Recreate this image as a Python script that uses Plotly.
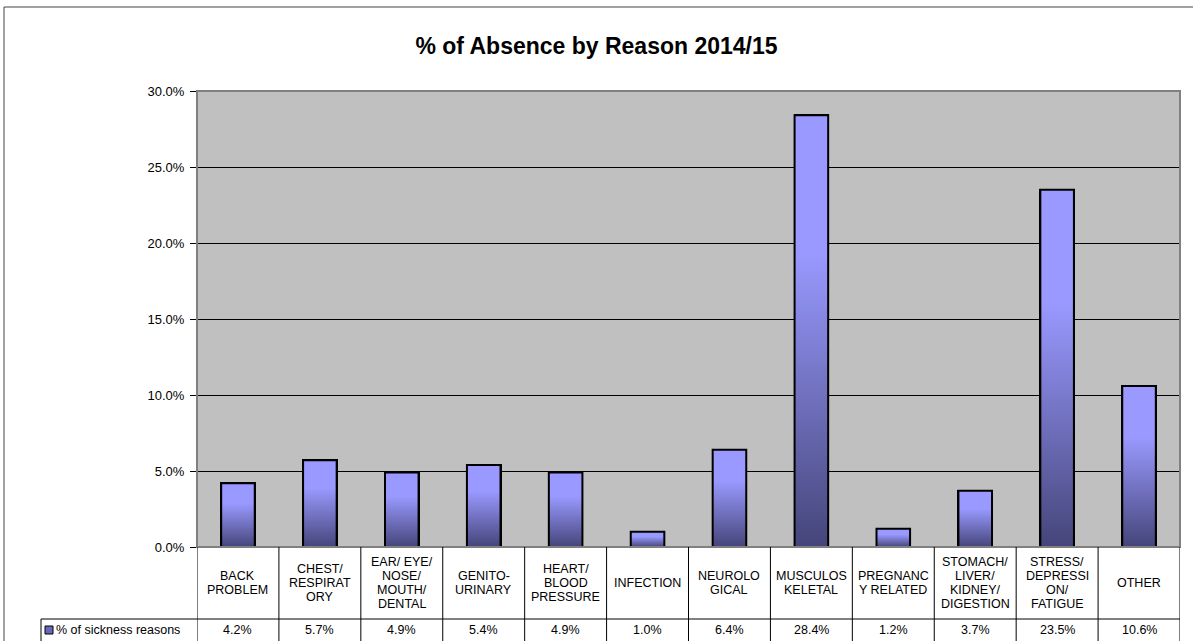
import plotly.graph_objects as go

# ---- data ----
categories = ["BACK PROBLEM", "CHEST/ RESPIRATORY", "EAR/ EYE/ NOSE/ MOUTH/ DENTAL",
              "GENITO-URINARY", "HEART/ BLOOD PRESSURE", "INFECTION", "NEUROLOGICAL",
              "MUSCULOSKELETAL", "PREGNANCY RELATED", "STOMACH/ LIVER/ KIDNEY/ DIGESTION",
              "STRESS/ DEPRESSION/ FATIGUE", "OTHER"]
table_labels = [["BACK", "PROBLEM"], ["CHEST/", "RESPIRAT", "ORY"],
                ["EAR/ EYE/", "NOSE/", "MOUTH/", "DENTAL"], ["GENITO-", "URINARY"],
                ["HEART/", "BLOOD", "PRESSURE"], ["INFECTION"], ["NEUROLO", "GICAL"],
                ["MUSCULOS", "KELETAL"], ["PREGNANC", "Y RELATED"],
                ["STOMACH/", "LIVER/", "KIDNEY/", "DIGESTION"],
                ["STRESS/", "DEPRESSI", "ON/", "FATIGUE"], ["OTHER"]]
values = [0.042, 0.057, 0.049, 0.054, 0.049, 0.010, 0.064, 0.284, 0.012, 0.037, 0.235, 0.106]
series_name = "% of sickness reasons"
y_ticks = [0, 0.05, 0.10, 0.15, 0.20, 0.25, 0.30]
title = "% of Absence by Reason 2014/15"

# ---- geometry ----
W, H = 1193, 641
PX0, PX1, PY0, PY1 = 197, 1180, 91, 547  # plot area in pixels
FONT = "Arial, Liberation Sans, sans-serif"
BAR_W = 0.41
LIGHT, DARK = "#9999FF", "#45457A"
LINE_PITCH = 13.7


def px(x):
    return (x - PX0) / (PX1 - PX0)


def py(y):
    return (PY1 - y) / (PY1 - PY0)


idx = list(range(len(categories)))

fig = go.Figure()
fig.add_trace(go.Bar(
    x=idx, y=values, width=BAR_W, name=series_name,
    marker=dict(color=LIGHT, line=dict(color="black", width=2)),
    hovertext=categories, showlegend=False,
))
# gradient overlay built from the same values
for i, v in zip(idx, values):
    fig.add_trace(go.Scatter(
        x=[i - BAR_W / 2, i + BAR_W / 2, i + BAR_W / 2, i - BAR_W / 2, i - BAR_W / 2],
        y=[0, 0, v, v, 0],
        mode="lines", fill="toself",
        fillgradient=dict(type="vertical",
                          colorscale=[[0, DARK], [0.68, LIGHT], [1, LIGHT]]),
        line=dict(color="black", width=2),
        hoverinfo="skip", showlegend=False,
    ))

shapes = []
# outer chart frame
shapes.append(dict(type="rect", xref="paper", yref="paper",
                   x0=px(4), x1=px(1200), y0=py(7), y1=py(660),
                   line=dict(color="#444444", width=1), fillcolor="rgba(0,0,0,0)"))
# plot area border (gray top/right)
shapes.append(dict(type="rect", xref="paper", yref="paper",
                   x0=0, x1=1, y0=0, y1=1, layer="above",
                   line=dict(color="#808080", width=2), fillcolor="rgba(0,0,0,0)"))
# table lines
for k in range(len(categories) + 1):
    shapes.append(dict(type="line", xref="x", yref="paper",
                       x0=k - 0.5, x1=k - 0.5, y0=py(547), y1=py(645),
                       line=dict(color="black", width=1)))
shapes.append(dict(type="line", xref="paper", yref="paper",
                   x0=px(41), x1=1, y0=py(619), y1=py(619),
                   line=dict(color="black", width=1)))
shapes.append(dict(type="line", xref="paper", yref="paper",
                   x0=px(41), x1=px(41), y0=py(619), y1=py(645),
                   line=dict(color="black", width=1)))
# legend key
shapes.append(dict(type="rect", xref="paper", yref="paper",
                   x0=px(45), x1=px(53), y0=py(634), y1=py(626),
                   line=dict(color="black", width=1), fillcolor="#6868B8"))

TFONT = dict(family=FONT, size=12.5, color="black")
annotations = []
for i, (lines, v) in enumerate(zip(table_labels, values)):
    n = len(lines)
    for j, ln in enumerate(lines):
        yc = 583 + (j - (n - 1) / 2) * LINE_PITCH
        annotations.append(dict(x=i, xref="x", y=py(yc), yref="paper", text=ln,
                                showarrow=False, xanchor="center", yanchor="middle",
                                font=TFONT))
    annotations.append(dict(x=i, xref="x", y=py(630), yref="paper", text=f"{v*100:.1f}%",
                            showarrow=False, xanchor="center", yanchor="middle",
                            font=TFONT))
annotations.append(dict(x=px(54), xref="paper", y=py(630), yref="paper", text=series_name,
                        showarrow=False, xanchor="left", yanchor="middle", font=TFONT))

fig.update_layout(
    width=W, height=H,
    margin=dict(l=PX0, r=W - PX1, t=PY0, b=H - PY1, pad=0),
    paper_bgcolor="white", plot_bgcolor="#C0C0C0",
    title=dict(text=f"<b>{title}</b>", x=0.5, xref="container", xanchor="center",
               y=1 - 46 / H, yanchor="middle",
               font=dict(family=FONT, size=23, color="black")),
    xaxis=dict(range=[-0.5, len(categories) - 0.5], showticklabels=False, ticks="",
               showgrid=False, zeroline=False, showline=True, linecolor="black",
               linewidth=1, fixedrange=True),
    yaxis=dict(range=[0, 0.30], tickvals=y_ticks, tickformat=".1%",
               ticks="outside", ticklen=6, tickcolor="black", tickwidth=1,
               ticklabelstandoff=3,
               showgrid=True, gridcolor="black", gridwidth=1, zeroline=False,
               showline=True, linecolor="black", linewidth=1,
               tickfont=dict(family=FONT, size=13, color="black"), fixedrange=True),
    shapes=shapes, annotations=annotations, showlegend=False,
    bargap=0,
)
fig.write_html("out.html", config={"displayModeBar": False},
               post_script="document.body.style.margin='0px';")
